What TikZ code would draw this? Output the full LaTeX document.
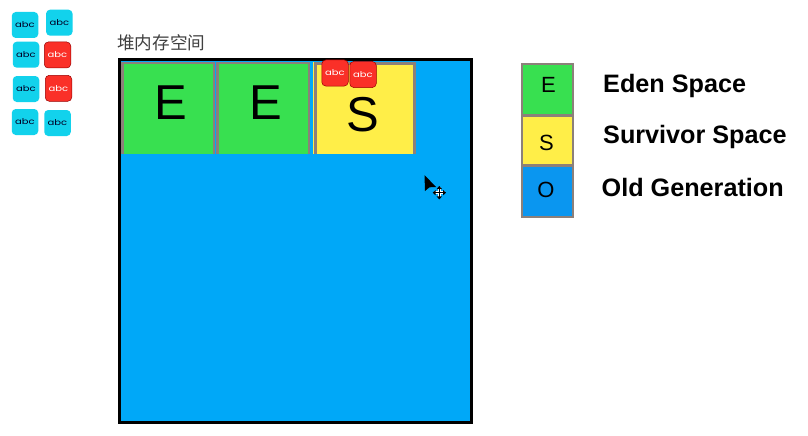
\documentclass[tikz,border=0pt]{standalone}
\usepackage{fontspec}
\setmainfont{Liberation Sans}
\newfontfamily\cjkf{Noto Sans CJK SC}
\newfontfamily\tilef[FakeStretch=1.25]{Poppins}
\definecolor{egreen}{HTML}{38E050}
\definecolor{syellow}{HTML}{FFEE48}
\definecolor{oblue}{HTML}{00A8F8}
\definecolor{lblue}{HTML}{0A96F0}
\definecolor{edgegray}{HTML}{8C807A}
\definecolor{tcyan}{HTML}{12D2EC}
\definecolor{tred}{HTML}{FA3028}
\tikzset{
  x=1pt,y=-1pt,
  tilebase/.style={rounded corners=4pt,inner sep=0pt,minimum width=26.5pt,minimum height=26pt,font=\tilef\fontsize{8}{9}\selectfont},
  tcy/.style={tilebase,fill=tcyan,text=black!85!blue},
  trd/.style={tilebase,fill=tred,text=white,draw=red!60!black,line width=.5pt},
  cell/.style={inner sep=0pt,anchor=north west,outer sep=0pt,minimum height=92pt},
  cellgly/.style={inner sep=0pt,font=\fontsize{49}{50}\selectfont},
  cellrim/.style={draw=edgegray,line width=2.5pt},
  lcell/.style={draw=edgegray,line width=2pt,inner sep=0pt,anchor=north west,minimum width=51pt},
  lgly/.style={inner sep=0pt,font=\fontsize{22}{24}\selectfont},
  ltext/.style={anchor=west,inner sep=0pt,font=\bfseries\fontsize{25.2}{27}\selectfont}
}
\begin{document}
\begin{tikzpicture}
\useasboundingbox (0,0) rectangle (808,436);
\fill[white] (0,0) rectangle (808,436);
% tiles
\node[tcy] (t1) at (25,25) {abc};
\node[tcy] (t2) at (59.3,22.7) {abc};
\node[tcy] (t3) at (26,54.7) {abc};
\node[trd] (t4) at (57.5,55) {abc};
\node[tcy] (t5) at (26,89) {abc};
\node[trd] (t6) at (58.5,88.3) {abc};
\node[tcy] (t7) at (25,122) {abc};
\node[tcy] (t8) at (57.5,123) {abc};
% title
\node[anchor=west,inner sep=0pt,text=black!75,font=\cjkf\fontsize{17.6}{19}\selectfont] (title) at (117,42.5) {堆内存空间};
% heap
\node[draw=black,fill=oblue,line width=3pt,anchor=north west,inner sep=0pt,minimum width=352pt,minimum height=363pt] (heap) at (118,58) {};
\node[cell,fill=egreen,minimum width=94pt] (e1) at (121,62) {};
\node[cell,fill=egreen,minimum width=94pt] (e2) at (216,62) {};
\node[cell,fill=syellow,minimum width=103pt] (s1) at (313,62) {};
\draw[cellrim] (e1.south west) ++(1.25,0) |- ([xshift=-1.25pt,yshift=-1.25pt]e1.north east) -- ([xshift=-1.25pt]e1.south east);
\draw[cellrim] (e2.south west) ++(1.25,0) |- ([xshift=-1.25pt,yshift=-1.25pt]e2.north east) -- ([xshift=-1.25pt]e2.south east);
\draw[cellrim,line width=3pt] ([xshift=2pt]s1.south west) |- ([xshift=-1.5pt,yshift=-1.25pt]s1.north east) -- ([xshift=-1.5pt]s1.south east);
\node[cellgly] (ge1) at (171,102.5) {E};
\node[cellgly] (ge2) at (266,102.5) {E};
\node[cellgly] (gs1) at (363,115) {S};
\node[trd] (r1) at (335,73) {abc};
\node[trd] (r2) at (363,74.5) {abc};
% cursor
\fill[black] (424.5,175) -- (425,191) -- (429.5,187.3) -- (436,187) -- cycle;
\draw[white,line width=2.6pt] (434,192.7) -- (445,192.7) (439.3,187) -- (439.3,198.4);
\draw[black,line width=1pt] (434,192.7) -- (445,192.7) (439.3,187) -- (439.3,198.4);
\fill[black] (432.7,192.7) -- (435.7,190) -- (435.7,195.4) -- cycle
  (446,192.7) -- (443,190) -- (443,195.4) -- cycle
  (439.3,186) -- (436.6,189) -- (442,189) -- cycle
  (439.3,199.4) -- (436.6,196.4) -- (442,196.4) -- cycle;
% legend
\node[lcell,fill=egreen,minimum height=51pt] (le) at (521,63) {};
\node[lcell,fill=syellow,minimum height=49pt] (ls) at (521,114.5) {};
\node[lcell,fill=lblue,minimum height=51pt] (lo) at (521,164.5) {};
\node[lgly] (ge) at (548.5,85) {E};
\node[lgly] (gs) at (546.5,143) {S};
\node[lgly] (go) at (546,190) {O};
\node[ltext] (te) at (603,85.5) {Eden Space};
\node[ltext] (ts) at (603,137) {Survivor Space};
\node[ltext] (to) at (601.5,187.5) {Old Generation};
\end{tikzpicture}
\end{document}
